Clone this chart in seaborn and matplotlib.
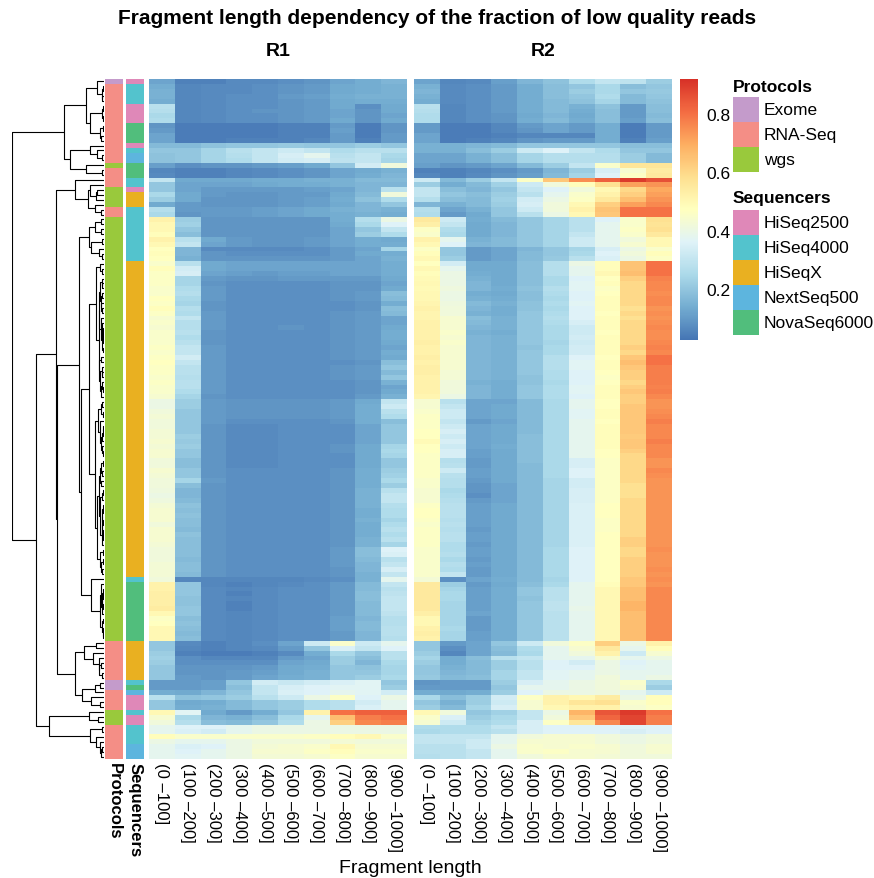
import numpy as np
import pandas as pd
import matplotlib
matplotlib.use("Agg")
import matplotlib.pyplot as plt
import seaborn as sns
from matplotlib.colors import LinearSegmentedColormap, ListedColormap
from matplotlib.patches import Rectangle
import matplotlib.cm as mcm

# ---------------- data ----------------
bins = ["(0 –100]", "(100 –200]", "(200 –300]", "(300 –400]", "(400 –500]",
        "(500 –600]", "(600 –700]", "(700 –800]", "(800 –900]", "(900 –1000]"]

protocols = (["Exome"] + ["RNA-Seq"] * 16 + ["wgs"] + ["RNA-Seq"] * 4 + ["wgs"] * 4 +
             ["RNA-Seq"] * 2 + ["wgs"] * 86 + ["RNA-Seq"] * 8 + ["Exome"] * 2 +
             ["RNA-Seq"] * 4 + ["wgs"] * 3 + ["RNA-Seq"] * 7)

sequencers = (["HiSeq2500"] + ["HiSeq4000"] * 4 + ["HiSeq2500"] * 4 + ["NovaSeq6000"] * 4 +
              ["HiSeq2500"] + ["HiSeq4000"] + ["NextSeq500"] * 2 + ["NovaSeq6000"] * 3 +
              ["HiSeq4000"] * 2 + ["HiSeq2500"] + ["HiSeqX"] * 3 + ["HiSeq4000"] * 11 +
              ["HiSeqX"] * 64 + ["HiSeq4000"] + ["NovaSeq6000"] * 12 + ["HiSeqX"] * 8 +
              ["HiSeq4000", "NovaSeq6000", "NextSeq500"] + ["HiSeq2500"] * 3 +
              ["HiSeq4000"] + ["HiSeq2500"] * 2 + ["HiSeq4000"] * 4 + ["NextSeq500"] * 3)

R1 = [
    [0.12,0.05,0.05,0.07,0.07,0.08,0.09,0.12,0.14,0.16],
    [0.14,0.06,0.07,0.07,0.08,0.09,0.10,0.13,0.14,0.15],
    [0.15,0.06,0.07,0.07,0.08,0.09,0.10,0.13,0.14,0.15],
    [0.15,0.06,0.07,0.08,0.08,0.10,0.11,0.14,0.15,0.15],
    [0.14,0.06,0.07,0.08,0.08,0.09,0.10,0.13,0.14,0.14],
    [0.28,0.06,0.07,0.08,0.08,0.09,0.10,0.13,0.08,0.13],
    [0.27,0.06,0.07,0.08,0.09,0.09,0.10,0.12,0.09,0.13],
    [0.25,0.06,0.07,0.08,0.08,0.09,0.10,0.12,0.09,0.12],
    [0.26,0.06,0.07,0.08,0.08,0.09,0.10,0.13,0.09,0.13],
    [0.09,0.04,0.04,0.04,0.04,0.05,0.05,0.10,0.04,0.09],
    [0.10,0.04,0.04,0.04,0.04,0.05,0.05,0.11,0.04,0.09],
    [0.12,0.04,0.04,0.04,0.04,0.05,0.05,0.10,0.04,0.10],
    [0.12,0.04,0.04,0.05,0.05,0.05,0.06,0.10,0.05,0.10],
    [0.17,0.17,0.19,0.20,0.20,0.21,0.20,0.20,0.22,0.20],
    [0.20,0.20,0.24,0.28,0.30,0.32,0.30,0.26,0.28,0.28],
    [0.19,0.20,0.24,0.27,0.30,0.34,0.38,0.28,0.30,0.25],
    [0.19,0.20,0.24,0.26,0.30,0.33,0.34,0.29,0.30,0.24],
    [0.11,0.08,0.09,0.09,0.10,0.11,0.13,0.20,0.33,0.42],
    [0.06,0.05,0.05,0.06,0.07,0.08,0.09,0.12,0.13,0.15],
    [0.07,0.05,0.05,0.06,0.07,0.08,0.09,0.12,0.14,0.16],
    [0.30,0.13,0.13,0.13,0.14,0.14,0.15,0.15,0.17,0.17],
    [0.20,0.12,0.12,0.12,0.13,0.14,0.14,0.15,0.16,0.16],
    [0.20,0.12,0.10,0.10,0.10,0.10,0.11,0.12,0.16,0.28],
    [0.25,0.13,0.10,0.09,0.09,0.10,0.10,0.13,0.17,0.42],
    [0.22,0.13,0.09,0.09,0.09,0.10,0.11,0.14,0.19,0.26],
    [0.13,0.10,0.09,0.09,0.09,0.10,0.11,0.13,0.16,0.20],
    [0.27,0.10,0.10,0.10,0.11,0.12,0.13,0.15,0.16,0.15],
    [0.25,0.09,0.10,0.10,0.11,0.12,0.13,0.14,0.15,0.14],
    [0.52,0.22,0.09,0.09,0.09,0.09,0.09,0.14,0.27,0.40],
    [0.50,0.23,0.09,0.09,0.09,0.09,0.09,0.13,0.25,0.36],
    [0.50,0.20,0.09,0.09,0.09,0.09,0.09,0.12,0.20,0.30],
    [0.48,0.18,0.09,0.09,0.09,0.09,0.09,0.12,0.22,0.26],
    [0.52,0.28,0.13,0.10,0.09,0.09,0.10,0.12,0.14,0.13],
    [0.50,0.30,0.12,0.10,0.09,0.09,0.10,0.12,0.14,0.14],
    [0.47,0.16,0.07,0.07,0.07,0.07,0.08,0.10,0.12,0.24],
    [0.48,0.16,0.09,0.08,0.08,0.08,0.08,0.10,0.13,0.14],
    [0.47,0.15,0.09,0.09,0.09,0.09,0.09,0.10,0.12,0.15],
    [0.45,0.28,0.13,0.12,0.12,0.12,0.12,0.12,0.12,0.14],
    [0.48,0.33,0.13,0.12,0.12,0.12,0.12,0.12,0.12,0.14],
    [0.46,0.34,0.12,0.11,0.10,0.11,0.11,0.12,0.12,0.14],
    [0.46,0.24,0.10,0.09,0.09,0.10,0.10,0.10,0.10,0.13],
    [0.46,0.24,0.09,0.08,0.08,0.08,0.08,0.09,0.09,0.12],
    [0.45,0.26,0.10,0.08,0.08,0.08,0.08,0.09,0.09,0.13],
    [0.45,0.27,0.10,0.08,0.08,0.08,0.08,0.09,0.10,0.18],
    [0.47,0.25,0.10,0.08,0.08,0.08,0.08,0.09,0.10,0.17],
    [0.46,0.24,0.09,0.08,0.08,0.08,0.08,0.08,0.09,0.14],
    [0.48,0.27,0.09,0.08,0.08,0.08,0.08,0.08,0.09,0.18],
    [0.46,0.26,0.10,0.08,0.08,0.08,0.08,0.09,0.10,0.17],
    [0.44,0.30,0.10,0.08,0.08,0.08,0.08,0.09,0.10,0.12],
    [0.45,0.27,0.10,0.08,0.08,0.08,0.08,0.09,0.10,0.12],
    [0.44,0.27,0.10,0.08,0.08,0.09,0.08,0.09,0.10,0.13],
    [0.45,0.28,0.09,0.08,0.08,0.08,0.08,0.09,0.10,0.14],
    [0.45,0.26,0.09,0.08,0.08,0.08,0.08,0.09,0.10,0.14],
    [0.45,0.28,0.09,0.08,0.08,0.08,0.08,0.09,0.10,0.13],
    [0.46,0.30,0.10,0.08,0.08,0.08,0.08,0.09,0.10,0.12],
    [0.45,0.30,0.10,0.08,0.08,0.08,0.08,0.09,0.10,0.14],
    [0.46,0.33,0.10,0.08,0.08,0.08,0.08,0.09,0.10,0.13],
    [0.47,0.30,0.10,0.08,0.08,0.08,0.08,0.08,0.09,0.18],
    [0.46,0.28,0.10,0.08,0.08,0.08,0.08,0.09,0.10,0.20],
    [0.46,0.28,0.10,0.08,0.08,0.08,0.08,0.09,0.10,0.17],
    [0.45,0.27,0.10,0.08,0.08,0.08,0.08,0.09,0.10,0.20],
    [0.46,0.28,0.10,0.08,0.08,0.08,0.08,0.08,0.09,0.15],
    [0.45,0.28,0.10,0.08,0.08,0.08,0.08,0.08,0.09,0.12],
    [0.45,0.26,0.10,0.08,0.08,0.08,0.08,0.08,0.09,0.13],
    [0.44,0.24,0.09,0.08,0.08,0.08,0.08,0.08,0.10,0.15],
    [0.40,0.22,0.10,0.09,0.09,0.09,0.09,0.10,0.13,0.30],
    [0.40,0.22,0.10,0.09,0.09,0.09,0.09,0.10,0.14,0.32],
    [0.42,0.20,0.10,0.09,0.09,0.09,0.09,0.10,0.14,0.28],
    [0.43,0.20,0.10,0.09,0.09,0.09,0.09,0.10,0.14,0.26],
    [0.42,0.20,0.10,0.08,0.08,0.08,0.08,0.09,0.14,0.18],
    [0.42,0.20,0.09,0.07,0.07,0.08,0.08,0.08,0.12,0.20],
    [0.43,0.20,0.09,0.07,0.07,0.08,0.08,0.08,0.12,0.20],
    [0.43,0.22,0.09,0.07,0.07,0.08,0.08,0.08,0.12,0.20],
    [0.44,0.21,0.09,0.07,0.07,0.08,0.08,0.08,0.12,0.20],
    [0.43,0.22,0.09,0.07,0.07,0.08,0.08,0.09,0.13,0.24],
    [0.44,0.20,0.09,0.07,0.07,0.08,0.08,0.09,0.13,0.25],
    [0.44,0.20,0.09,0.07,0.07,0.08,0.08,0.08,0.13,0.24],
    [0.42,0.18,0.09,0.07,0.07,0.08,0.08,0.08,0.13,0.20],
    [0.42,0.18,0.09,0.07,0.07,0.08,0.08,0.08,0.13,0.20],
    [0.44,0.20,0.09,0.08,0.08,0.08,0.08,0.09,0.14,0.22],
    [0.43,0.20,0.09,0.08,0.08,0.08,0.08,0.09,0.14,0.23],
    [0.42,0.24,0.10,0.08,0.08,0.08,0.08,0.09,0.14,0.25],
    [0.42,0.18,0.09,0.08,0.08,0.08,0.08,0.09,0.14,0.22],
    [0.41,0.16,0.09,0.08,0.08,0.08,0.08,0.09,0.15,0.28],
    [0.40,0.16,0.09,0.08,0.08,0.08,0.08,0.09,0.15,0.30],
    [0.41,0.17,0.09,0.08,0.08,0.08,0.08,0.09,0.15,0.30],
    [0.43,0.19,0.09,0.08,0.08,0.08,0.08,0.09,0.15,0.27],
    [0.44,0.18,0.09,0.08,0.08,0.08,0.08,0.09,0.14,0.26],
    [0.44,0.19,0.09,0.08,0.08,0.08,0.08,0.09,0.14,0.26],
    [0.44,0.18,0.09,0.08,0.08,0.08,0.08,0.09,0.15,0.24],
    [0.42,0.18,0.09,0.08,0.08,0.08,0.08,0.09,0.14,0.26],
    [0.44,0.17,0.09,0.08,0.08,0.08,0.08,0.09,0.14,0.28],
    [0.44,0.19,0.09,0.08,0.08,0.08,0.08,0.09,0.14,0.26],
    [0.44,0.18,0.09,0.08,0.08,0.08,0.08,0.09,0.15,0.28],
    [0.43,0.18,0.09,0.08,0.08,0.08,0.08,0.09,0.15,0.24],
    [0.42,0.18,0.09,0.08,0.08,0.08,0.08,0.10,0.18,0.36],
    [0.42,0.18,0.09,0.08,0.08,0.08,0.08,0.10,0.18,0.35],
    [0.42,0.17,0.09,0.08,0.08,0.08,0.08,0.10,0.17,0.28],
    [0.43,0.18,0.09,0.08,0.08,0.08,0.08,0.10,0.16,0.30],
    [0.43,0.18,0.09,0.08,0.08,0.08,0.08,0.09,0.16,0.34],
    [0.43,0.17,0.09,0.08,0.08,0.08,0.08,0.09,0.15,0.30],
    [0.42,0.06,0.06,0.06,0.06,0.06,0.07,0.08,0.15,0.38],
    [0.52,0.20,0.06,0.05,0.06,0.07,0.08,0.10,0.17,0.30],
    [0.52,0.20,0.07,0.06,0.07,0.08,0.08,0.10,0.17,0.28],
    [0.53,0.20,0.07,0.05,0.07,0.08,0.08,0.10,0.18,0.29],
    [0.53,0.19,0.07,0.06,0.07,0.08,0.08,0.10,0.18,0.30],
    [0.53,0.19,0.07,0.05,0.07,0.08,0.08,0.10,0.17,0.30],
    [0.54,0.20,0.07,0.05,0.07,0.08,0.08,0.10,0.17,0.30],
    [0.50,0.20,0.07,0.06,0.07,0.08,0.08,0.10,0.17,0.29],
    [0.46,0.18,0.07,0.06,0.07,0.08,0.08,0.11,0.16,0.27],
    [0.47,0.19,0.07,0.06,0.07,0.08,0.08,0.11,0.17,0.27],
    [0.50,0.18,0.07,0.06,0.07,0.08,0.08,0.11,0.17,0.28],
    [0.50,0.17,0.07,0.06,0.07,0.08,0.08,0.10,0.16,0.28],
    [0.50,0.18,0.07,0.06,0.07,0.08,0.08,0.10,0.16,0.27],
    [0.20,0.07,0.05,0.06,0.08,0.12,0.32,0.45,0.32,0.38],
    [0.20,0.06,0.05,0.06,0.07,0.10,0.20,0.35,0.30,0.36],
    [0.22,0.05,0.04,0.04,0.05,0.07,0.14,0.25,0.20,0.28],
    [0.23,0.08,0.06,0.06,0.06,0.10,0.12,0.22,0.18,0.28],
    [0.22,0.08,0.08,0.08,0.08,0.12,0.13,0.22,0.16,0.25],
    [0.20,0.09,0.09,0.09,0.10,0.13,0.14,0.20,0.19,0.24],
    [0.20,0.09,0.09,0.10,0.11,0.13,0.15,0.20,0.20,0.24],
    [0.20,0.10,0.09,0.10,0.12,0.14,0.15,0.20,0.22,0.25],
    [0.10,0.10,0.11,0.20,0.33,0.31,0.33,0.35,0.37,0.20],
    [0.10,0.10,0.11,0.18,0.30,0.34,0.36,0.37,0.37,0.22],
    [0.14,0.13,0.16,0.20,0.30,0.35,0.36,0.38,0.37,0.33],
    [0.28,0.19,0.20,0.22,0.28,0.32,0.40,0.46,0.36,0.40],
    [0.20,0.13,0.14,0.17,0.20,0.22,0.26,0.28,0.33,0.38],
    [0.20,0.14,0.15,0.17,0.20,0.22,0.26,0.28,0.35,0.38],
    [0.50,0.37,0.13,0.10,0.14,0.20,0.52,0.80,0.83,0.83],
    [0.44,0.25,0.16,0.15,0.18,0.25,0.38,0.66,0.78,0.80],
    [0.42,0.27,0.18,0.17,0.20,0.26,0.40,0.62,0.76,0.78],
    [0.38,0.36,0.36,0.38,0.40,0.40,0.40,0.40,0.40,0.40],
    [0.38,0.35,0.33,0.38,0.40,0.40,0.40,0.40,0.40,0.40],
    [0.48,0.45,0.45,0.45,0.45,0.45,0.46,0.48,0.50,0.45],
    [0.40,0.38,0.38,0.40,0.42,0.42,0.42,0.43,0.42,0.42],
    [0.38,0.35,0.36,0.40,0.43,0.44,0.45,0.50,0.44,0.44],
    [0.38,0.36,0.38,0.40,0.44,0.44,0.46,0.48,0.45,0.45],
    [0.38,0.37,0.38,0.40,0.43,0.43,0.44,0.46,0.44,0.44],
]

R2 = [
    [0.12,0.06,0.07,0.11,0.16,0.19,0.26,0.30,0.29,0.22],
    [0.15,0.07,0.08,0.10,0.14,0.18,0.20,0.25,0.18,0.20],
    [0.16,0.07,0.08,0.10,0.14,0.18,0.22,0.25,0.20,0.21],
    [0.15,0.07,0.08,0.10,0.14,0.18,0.20,0.26,0.17,0.20],
    [0.14,0.07,0.08,0.10,0.14,0.17,0.19,0.24,0.17,0.19],
    [0.28,0.06,0.08,0.10,0.14,0.17,0.15,0.19,0.10,0.18],
    [0.27,0.06,0.08,0.10,0.14,0.17,0.14,0.18,0.10,0.18],
    [0.26,0.06,0.08,0.09,0.13,0.16,0.13,0.18,0.10,0.17],
    [0.26,0.06,0.08,0.09,0.14,0.17,0.14,0.18,0.11,0.18],
    [0.10,0.04,0.04,0.06,0.10,0.12,0.10,0.14,0.04,0.10],
    [0.10,0.04,0.04,0.06,0.09,0.12,0.10,0.14,0.04,0.10],
    [0.12,0.04,0.04,0.05,0.06,0.06,0.06,0.14,0.04,0.10],
    [0.12,0.04,0.05,0.06,0.09,0.10,0.10,0.14,0.05,0.11],
    [0.15,0.15,0.16,0.17,0.20,0.20,0.20,0.20,0.18,0.18],
    [0.15,0.15,0.18,0.22,0.32,0.36,0.30,0.26,0.20,0.20],
    [0.12,0.12,0.15,0.18,0.24,0.27,0.27,0.27,0.22,0.17],
    [0.12,0.12,0.15,0.18,0.24,0.27,0.27,0.27,0.22,0.17],
    [0.11,0.09,0.10,0.12,0.17,0.22,0.30,0.45,0.56,0.56],
    [0.05,0.05,0.06,0.08,0.10,0.16,0.22,0.34,0.44,0.54],
    [0.06,0.05,0.07,0.09,0.11,0.17,0.24,0.36,0.46,0.55],
    [0.32,0.17,0.22,0.30,0.46,0.64,0.75,0.83,0.90,0.86],
    [0.22,0.14,0.17,0.23,0.32,0.42,0.48,0.58,0.72,0.74],
    [0.30,0.18,0.16,0.20,0.30,0.36,0.42,0.50,0.60,0.70],
    [0.30,0.20,0.18,0.22,0.28,0.38,0.45,0.52,0.62,0.72],
    [0.27,0.18,0.17,0.23,0.33,0.40,0.46,0.55,0.66,0.74],
    [0.16,0.15,0.17,0.22,0.34,0.42,0.50,0.62,0.72,0.76],
    [0.27,0.12,0.15,0.20,0.32,0.42,0.52,0.65,0.80,0.80],
    [0.26,0.10,0.13,0.20,0.28,0.40,0.50,0.64,0.80,0.80],
    [0.55,0.32,0.14,0.17,0.20,0.24,0.28,0.36,0.45,0.58],
    [0.53,0.30,0.13,0.16,0.20,0.24,0.28,0.38,0.45,0.57],
    [0.46,0.26,0.13,0.16,0.20,0.24,0.28,0.38,0.46,0.58],
    [0.45,0.25,0.13,0.16,0.20,0.24,0.30,0.38,0.45,0.55],
    [0.52,0.38,0.15,0.17,0.20,0.24,0.32,0.38,0.42,0.50],
    [0.50,0.36,0.16,0.17,0.20,0.24,0.32,0.38,0.44,0.50],
    [0.46,0.20,0.10,0.12,0.16,0.20,0.24,0.34,0.40,0.45],
    [0.48,0.20,0.10,0.12,0.17,0.20,0.25,0.36,0.42,0.48],
    [0.50,0.22,0.10,0.12,0.17,0.21,0.28,0.35,0.40,0.46],
    [0.47,0.33,0.13,0.13,0.18,0.27,0.40,0.48,0.65,0.80],
    [0.50,0.38,0.13,0.13,0.18,0.27,0.38,0.48,0.65,0.80],
    [0.48,0.40,0.14,0.13,0.18,0.27,0.38,0.50,0.66,0.80],
    [0.49,0.40,0.15,0.13,0.18,0.25,0.36,0.47,0.62,0.77],
    [0.50,0.40,0.16,0.13,0.18,0.25,0.37,0.48,0.60,0.76],
    [0.49,0.41,0.16,0.14,0.19,0.27,0.37,0.46,0.60,0.76],
    [0.50,0.40,0.14,0.13,0.18,0.26,0.36,0.47,0.60,0.75],
    [0.50,0.40,0.15,0.14,0.18,0.25,0.36,0.48,0.60,0.76],
    [0.51,0.41,0.17,0.15,0.19,0.26,0.37,0.48,0.60,0.76],
    [0.52,0.42,0.16,0.14,0.19,0.25,0.36,0.48,0.58,0.74],
    [0.51,0.42,0.15,0.14,0.20,0.26,0.36,0.47,0.60,0.75],
    [0.51,0.44,0.18,0.15,0.20,0.27,0.36,0.48,0.58,0.74],
    [0.52,0.44,0.17,0.15,0.20,0.26,0.34,0.48,0.60,0.75],
    [0.52,0.44,0.16,0.15,0.20,0.25,0.32,0.48,0.60,0.76],
    [0.52,0.45,0.15,0.14,0.20,0.25,0.32,0.47,0.60,0.75],
    [0.52,0.44,0.16,0.15,0.20,0.25,0.33,0.48,0.60,0.75],
    [0.53,0.45,0.16,0.15,0.20,0.24,0.32,0.48,0.60,0.76],
    [0.52,0.44,0.16,0.15,0.19,0.25,0.33,0.48,0.62,0.77],
    [0.52,0.44,0.16,0.15,0.20,0.25,0.33,0.48,0.60,0.76],
    [0.53,0.44,0.16,0.15,0.20,0.27,0.36,0.47,0.64,0.80],
    [0.52,0.44,0.16,0.15,0.20,0.27,0.37,0.48,0.66,0.80],
    [0.53,0.44,0.16,0.15,0.20,0.27,0.37,0.48,0.64,0.78],
    [0.53,0.43,0.16,0.15,0.20,0.26,0.36,0.47,0.62,0.78],
    [0.52,0.43,0.16,0.15,0.19,0.26,0.36,0.46,0.62,0.78],
    [0.52,0.42,0.15,0.14,0.19,0.25,0.36,0.47,0.60,0.78],
    [0.52,0.42,0.16,0.14,0.20,0.26,0.37,0.48,0.62,0.77],
    [0.52,0.42,0.16,0.14,0.20,0.26,0.37,0.48,0.64,0.78],
    [0.51,0.40,0.16,0.14,0.20,0.26,0.36,0.48,0.62,0.76],
    [0.44,0.28,0.12,0.12,0.17,0.25,0.38,0.47,0.62,0.74],
    [0.44,0.30,0.12,0.13,0.17,0.25,0.38,0.47,0.64,0.74],
    [0.45,0.32,0.12,0.13,0.17,0.25,0.37,0.48,0.64,0.75],
    [0.46,0.32,0.12,0.13,0.17,0.25,0.37,0.48,0.64,0.76],
    [0.46,0.30,0.10,0.12,0.17,0.25,0.38,0.47,0.64,0.78],
    [0.46,0.32,0.12,0.13,0.17,0.25,0.38,0.48,0.64,0.76],
    [0.47,0.34,0.12,0.13,0.17,0.25,0.38,0.48,0.64,0.76],
    [0.47,0.32,0.12,0.13,0.18,0.25,0.38,0.48,0.63,0.76],
    [0.49,0.34,0.12,0.13,0.18,0.25,0.38,0.48,0.64,0.78],
    [0.47,0.32,0.12,0.14,0.18,0.25,0.38,0.48,0.64,0.76],
    [0.47,0.34,0.11,0.13,0.18,0.25,0.38,0.47,0.62,0.76],
    [0.46,0.34,0.11,0.13,0.18,0.25,0.38,0.47,0.60,0.76],
    [0.46,0.27,0.10,0.13,0.18,0.25,0.34,0.46,0.60,0.74],
    [0.46,0.28,0.10,0.13,0.17,0.25,0.34,0.46,0.60,0.74],
    [0.46,0.32,0.11,0.13,0.17,0.25,0.36,0.46,0.60,0.76],
    [0.46,0.28,0.11,0.13,0.17,0.25,0.36,0.46,0.60,0.75],
    [0.45,0.27,0.10,0.13,0.17,0.24,0.33,0.46,0.60,0.74],
    [0.45,0.27,0.09,0.12,0.17,0.24,0.33,0.46,0.58,0.74],
    [0.44,0.25,0.09,0.12,0.17,0.24,0.34,0.46,0.58,0.74],
    [0.44,0.26,0.08,0.12,0.17,0.24,0.34,0.46,0.58,0.74],
    [0.44,0.27,0.10,0.12,0.17,0.24,0.34,0.46,0.60,0.74],
    [0.46,0.28,0.11,0.13,0.17,0.24,0.35,0.47,0.60,0.74],
    [0.47,0.28,0.11,0.13,0.17,0.24,0.35,0.47,0.60,0.74],
    [0.47,0.28,0.11,0.13,0.17,0.24,0.35,0.47,0.60,0.74],
    [0.46,0.27,0.11,0.13,0.17,0.24,0.35,0.46,0.60,0.74],
    [0.45,0.28,0.11,0.13,0.17,0.24,0.35,0.46,0.60,0.74],
    [0.46,0.27,0.10,0.13,0.17,0.24,0.35,0.46,0.60,0.74],
    [0.46,0.28,0.11,0.13,0.17,0.24,0.35,0.47,0.60,0.74],
    [0.46,0.28,0.11,0.13,0.17,0.24,0.35,0.47,0.62,0.74],
    [0.46,0.26,0.10,0.13,0.17,0.24,0.35,0.47,0.62,0.74],
    [0.45,0.26,0.11,0.13,0.17,0.25,0.36,0.47,0.60,0.75],
    [0.45,0.27,0.11,0.13,0.17,0.25,0.36,0.47,0.60,0.74],
    [0.45,0.25,0.10,0.13,0.17,0.25,0.36,0.47,0.62,0.74],
    [0.45,0.27,0.11,0.13,0.17,0.25,0.36,0.47,0.62,0.74],
    [0.45,0.26,0.10,0.13,0.17,0.25,0.36,0.47,0.62,0.75],
    [0.45,0.30,0.10,0.13,0.17,0.25,0.36,0.47,0.62,0.74],
    [0.43,0.08,0.12,0.14,0.17,0.24,0.36,0.47,0.64,0.75],
    [0.55,0.22,0.10,0.13,0.18,0.25,0.38,0.48,0.64,0.74],
    [0.55,0.24,0.11,0.14,0.20,0.28,0.38,0.50,0.66,0.76],
    [0.55,0.25,0.11,0.14,0.20,0.28,0.38,0.50,0.66,0.76],
    [0.55,0.25,0.11,0.14,0.19,0.28,0.38,0.50,0.66,0.76],
    [0.55,0.24,0.11,0.14,0.20,0.29,0.38,0.50,0.68,0.76],
    [0.55,0.24,0.11,0.14,0.20,0.29,0.39,0.50,0.68,0.76],
    [0.53,0.24,0.12,0.14,0.20,0.28,0.38,0.50,0.66,0.76],
    [0.50,0.24,0.10,0.14,0.20,0.28,0.38,0.50,0.66,0.76],
    [0.50,0.24,0.10,0.14,0.20,0.28,0.38,0.50,0.66,0.76],
    [0.52,0.25,0.10,0.14,0.20,0.28,0.38,0.50,0.66,0.76],
    [0.53,0.24,0.11,0.14,0.20,0.28,0.38,0.50,0.66,0.76],
    [0.52,0.24,0.11,0.14,0.20,0.28,0.38,0.50,0.66,0.76],
    [0.20,0.10,0.12,0.20,0.32,0.42,0.46,0.62,0.40,0.52],
    [0.20,0.08,0.12,0.18,0.26,0.38,0.44,0.55,0.38,0.48],
    [0.22,0.06,0.12,0.17,0.25,0.38,0.42,0.52,0.32,0.44],
    [0.24,0.14,0.18,0.28,0.30,0.38,0.38,0.44,0.38,0.40],
    [0.22,0.14,0.17,0.22,0.28,0.36,0.33,0.40,0.36,0.38],
    [0.20,0.15,0.17,0.22,0.28,0.36,0.36,0.40,0.37,0.38],
    [0.20,0.16,0.17,0.24,0.30,0.37,0.38,0.40,0.38,0.38],
    [0.21,0.17,0.18,0.24,0.30,0.37,0.38,0.42,0.38,0.40],
    [0.09,0.10,0.10,0.22,0.34,0.38,0.40,0.42,0.45,0.25],
    [0.10,0.10,0.10,0.20,0.38,0.38,0.40,0.42,0.44,0.22],
    [0.14,0.13,0.14,0.22,0.36,0.40,0.40,0.41,0.38,0.32],
    [0.25,0.18,0.22,0.33,0.46,0.52,0.50,0.54,0.40,0.48],
    [0.20,0.15,0.22,0.32,0.44,0.52,0.56,0.58,0.45,0.48],
    [0.22,0.17,0.24,0.34,0.44,0.50,0.52,0.52,0.44,0.46],
    [0.50,0.42,0.20,0.23,0.30,0.40,0.68,0.85,0.90,0.80],
    [0.45,0.35,0.22,0.25,0.30,0.42,0.64,0.82,0.88,0.78],
    [0.44,0.32,0.24,0.26,0.34,0.46,0.56,0.76,0.88,0.78],
    [0.26,0.26,0.26,0.30,0.34,0.36,0.36,0.36,0.36,0.36],
    [0.25,0.26,0.26,0.28,0.34,0.36,0.36,0.36,0.34,0.36],
    [0.30,0.30,0.30,0.38,0.42,0.44,0.44,0.42,0.40,0.42],
    [0.30,0.30,0.32,0.38,0.44,0.44,0.44,0.42,0.40,0.42],
    [0.28,0.28,0.32,0.40,0.45,0.44,0.45,0.44,0.42,0.44],
    [0.28,0.28,0.30,0.38,0.45,0.46,0.44,0.44,0.42,0.44],
    [0.27,0.28,0.30,0.38,0.42,0.44,0.44,0.43,0.42,0.42],
]

protocol_levels = ["Exome", "RNA-Seq", "wgs"]
protocol_colors = ["#C49BCB", "#F48E86", "#99C93C"]
seq_levels = ["HiSeq2500", "HiSeq4000", "HiSeqX", "NextSeq500", "NovaSeq6000"]
seq_colors = ["#DF88B8", "#53C3CD", "#E9B021", "#5DB5DE", "#51BE7C"]

VMIN, VMAX = 0.025, 0.92

# ---------------- style ----------------
sns.set_theme(style="white")
plt.rcParams['font.family'] = ['Liberation Sans', 'DejaVu Sans']
plt.rcParams['text.color'] = 'black'
plt.rcParams['xtick.color'] = 'black'
plt.rcParams['ytick.color'] = 'black'
plt.rcParams['axes.labelcolor'] = 'black'

W, H = 874, 879
fig = plt.figure(figsize=(W / 100, H / 100), dpi=100)


def px(x, y, w, h):
    return [x / W, 1 - (y + h) / H, w / W, h / H]


cmap = LinearSegmentedColormap.from_list(
    "rdylbu", ["#4575b4", "#74add1", "#abd9e9", "#e0f3f8", "#ffffbf",
               "#fee090", "#fdae61", "#f46d43", "#d73027"])

n = len(R1)
HM_TOP, HM_H = 80, 680
FS = 12.5
TFS = 12

# heatmaps
for data, x0 in [(R1, 149), (R2, 414)]:
    ax = fig.add_axes(px(x0, HM_TOP, 258, HM_H))
    df = pd.DataFrame(data, columns=bins)
    sns.heatmap(df, ax=ax, cmap=cmap, vmin=VMIN, vmax=VMAX, cbar=False,
                xticklabels=bins, yticklabels=False)
    ax.tick_params(axis='x', length=0, pad=2, labelsize=TFS, labelcolor='black')
    for t in ax.get_xticklabels():
        t.set_rotation(270)
        t.set_ha('center')
        t.set_va('top')
    ax.set_xlabel("")
    ax.set_ylabel("")

# annotation bars
for values, levels, colors, x0, label in [
        (protocols, protocol_levels, protocol_colors, 105, "Protocols"),
        (sequencers, seq_levels, seq_colors, 126, "Sequencers")]:
    ax = fig.add_axes(px(x0, HM_TOP, 18, HM_H))
    codes = np.array([levels.index(v) for v in values]).reshape(-1, 1)
    sns.heatmap(codes, ax=ax, cmap=ListedColormap(colors), vmin=-0.5,
                vmax=len(levels) - 0.5, cbar=False, xticklabels=[label],
                yticklabels=False)
    ax.tick_params(axis='x', length=0, pad=2, labelsize=TFS, labelcolor='black')
    for t in ax.get_xticklabels():
        t.set_rotation(270)
        t.set_ha('center')
        t.set_va('top')
        t.set_fontweight('bold')

# dendrogram (adjacency-constrained complete linkage on the row values)
X = np.hstack([np.array(R1), np.array(R2)])
D = np.sqrt(((X[:, None, :] - X[None, :, :]) ** 2).sum(-1))
clusters = [dict(m=[i], pos=i + 0.5, h=0.0) for i in range(n)]
segments = []
while len(clusters) > 1:
    best = None
    for k in range(len(clusters) - 1):
        a, b = clusters[k], clusters[k + 1]
        d = D[np.ix_(a['m'], b['m'])].max()
        if best is None or d < best[0]:
            best = (d, k)
    d, k = best
    a, b = clusters[k], clusters[k + 1]
    h = max(d, a['h'], b['h'])
    segments.append(([a['h'], h, h, b['h']], [a['pos'], a['pos'], b['pos'], b['pos']]))
    clusters[k:k + 2] = [dict(m=a['m'] + b['m'], pos=(a['pos'] + b['pos']) / 2, h=h)]
maxh = clusters[0]['h']

dax = fig.add_axes(px(12, HM_TOP, 92, HM_H))
for xs, ys in segments:
    dax.plot(xs, ys, color='black', lw=0.8, solid_capstyle='butt')
dax.set_xlim(maxh, 0)
dax.set_ylim(n, 0)
dax.axis('off')

# colorbar
cax = fig.add_axes(px(680, 80, 18, 261))
sm = mcm.ScalarMappable(cmap=cmap, norm=plt.Normalize(VMIN, VMAX))
cb = fig.colorbar(sm, cax=cax, ticks=[0.2, 0.4, 0.6, 0.8])
cb.outline.set_visible(False)
cax.tick_params(length=0, labelsize=FS, pad=6, labelcolor='black')

# legends
lax = fig.add_axes(px(725, 70, 149, 280))
lax.set_xlim(725, 874)
lax.set_ylim(350, 70)
lax.axis('off')
lax.text(733, 87, "Protocols", fontsize=FS, fontweight='bold', va='center', ha='left')
for i, (lv, c) in enumerate(zip(protocol_levels, protocol_colors)):
    y = 98 + 25 * i
    lax.add_patch(Rectangle((733, y), 26, 25, color=c, lw=0))
    lax.text(764, y + 12.5, lv, fontsize=FS, va='center', ha='left')
lax.text(733, 199, "Sequencers", fontsize=FS, fontweight='bold', va='center', ha='left')
for i, (lv, c) in enumerate(zip(seq_levels, seq_colors)):
    y = 211 + 25 * i
    lax.add_patch(Rectangle((733, y), 26, 25, color=c, lw=0))
    lax.text(764, y + 12.5, lv, fontsize=FS, va='center', ha='left')

# titles
fig.text(437 / W, 1 - 18 / H, "Fragment length dependency of the fraction of low quality reads",
         ha='center', va='center', fontsize=15, fontweight='bold')
fig.text(278 / W, 1 - 52 / H, "R1", ha='center', va='center', fontsize=14, fontweight='bold')
fig.text(543 / W, 1 - 52 / H, "R2", ha='center', va='center', fontsize=14, fontweight='bold')
fig.text(410 / W, 1 - 873 / H, "Fragment length", ha='center', va='baseline', fontsize=14)

fig.savefig("out.png", dpi=100)
